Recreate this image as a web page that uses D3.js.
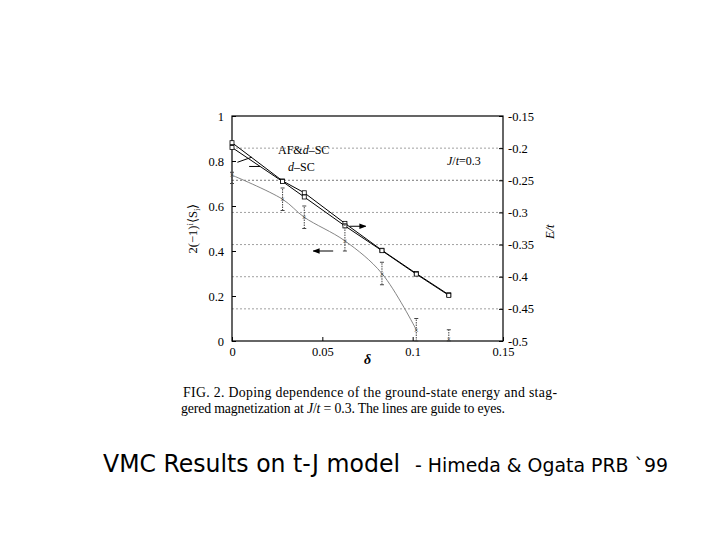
<!DOCTYPE html><html><head><meta charset="utf-8"><script src="https://d3js.org/d3.v7.min.js"></script>
<style>body{margin:0;background:#fff}</style></head><body><svg id="c" width="720" height="540"></svg>
<script>
const delta=[0,0.028,0.04,0.0625,0.083,0.102,0.12];
const eAF=[-0.1915,-0.251,-0.2694,-0.317,-0.3588,-0.395,-0.428];
const eSC=[-0.199,-0.252,-0.276,-0.321,-0.3595,-0.396,-0.429];
const mag=[0.737,0.63,0.55,0.445,0.30,0.05,0.01];
const magLo=[0.70,0.58,0.50,0.40,0.25,0.0,0.0];
const magHi=[0.75,0.68,0.60,0.52,0.35,0.10,0.05];
const xTicks=[0,0.05,0.1,0.15], yTicks=[0,0.2,0.4,0.6,0.8,1], eTicks=[-0.15,-0.2,-0.25,-0.3,-0.35,-0.4,-0.45,-0.5];
const svg=d3.select("#c");
const L=232,R=503,T=116,B=341;
const x=d3.scaleLinear().domain([0,0.15]).range([L,R]);
const y=d3.scaleLinear().domain([0,1]).range([B,T]);
const ye=d3.scaleLinear().domain([-0.5,-0.15]).range([B,T]);
const serif="Liberation Serif, Times New Roman, serif";
svg.append("g").selectAll("line").data(eTicks.slice(1,-1)).join("line")
 .attr("x1",L).attr("x2",R).attr("y1",d=>ye(d)).attr("y2",d=>ye(d))
 .attr("stroke",(d,i)=>i==1?"#555":"#888").attr("stroke-dasharray","2,2").attr("stroke-width",0.8);
svg.append("rect").attr("x",L).attr("y",T).attr("width",R-L).attr("height",B-T).attr("fill","none").attr("stroke","#000").attr("stroke-width",1.2);
const fmt=d=>String(d);
const ax=svg.append("g").attr("transform",`translate(0,${B})`).call(d3.axisBottom(x).tickValues(xTicks).tickFormat(fmt).tickSize(-4).tickPadding(6));
const ay=svg.append("g").attr("transform",`translate(${L},0)`).call(d3.axisLeft(y).tickValues(yTicks).tickFormat(fmt).tickSize(-4).tickPadding(8));
const ae=svg.append("g").attr("transform",`translate(${R},0)`).call(d3.axisRight(ye).tickValues(eTicks).tickFormat(fmt).tickSize(-4).tickPadding(5));
[ax,ay,ae].forEach(a=>{a.select(".domain").remove();a.selectAll("text").attr("font-family",serif).attr("font-size",12.5).attr("fill","#000");});
const le=d3.line().x((d,i)=>x(delta[i])).y(d=>ye(d));
[eAF,eSC].forEach(s=>{
 svg.append("path").attr("d",le(s)).attr("fill","none").attr("stroke","#000").attr("stroke-width",1);
 svg.append("g").selectAll("rect").data(s).join("rect").attr("x",(d,i)=>x(delta[i])-2).attr("y",d=>ye(d)-2).attr("width",4).attr("height",4).attr("fill","#fff").attr("stroke","#000").attr("stroke-width",0.8);
});
const lm=d3.line().curve(d3.curveCatmullRom).x((d,i)=>x(delta[i])).y(d=>y(d));
svg.append("path").attr("d",lm(mag.slice(0,6))).attr("fill","none").attr("stroke","#777").attr("stroke-width",0.9);
const g=svg.append("g");
delta.forEach((d,i)=>{
 const cx=x(d);
 g.append("line").attr("x1",cx).attr("x2",cx).attr("y1",y(magLo[i])).attr("y2",y(magHi[i])).attr("stroke","#444").attr("stroke-dasharray","1.5,1");
 [magLo[i],magHi[i]].forEach(v=>g.append("line").attr("x1",cx-2).attr("x2",cx+2).attr("y1",y(v)).attr("y2",y(v)).attr("stroke","#444"));
 g.append("text").attr("x",cx).attr("y",y(mag[i])+3).attr("text-anchor","middle").attr("font-size",8).attr("fill","#333").text("×");
});
svg.append("defs").append("marker").attr("id","ah").attr("viewBox","0 0 10 10").attr("refX",9).attr("refY",5).attr("markerWidth",7).attr("markerHeight",7).attr("orient","auto").append("path").attr("d","M0,1L10,5L0,9z");
svg.append("line").attr("x1",x(0.065)).attr("x2",x(0.074)).attr("y1",y(0.51)).attr("y2",y(0.51)).attr("stroke","#000").attr("marker-end","url(#ah)");
svg.append("line").attr("x1",x(0.056)).attr("x2",x(0.045)).attr("y1",y(0.4)).attr("y2",y(0.4)).attr("stroke","#000").attr("marker-end","url(#ah)");
svg.append("line").attr("x1",x(0.003)).attr("x2",x(0.011)).attr("y1",ye(-0.222)).attr("y2",ye(-0.214)).attr("stroke","#000");
svg.append("text").attr("x",278).attr("y",154).attr("font-family",serif).attr("font-size",12).html('AF&amp;<tspan font-style="italic">d</tspan>–SC');
svg.append("line").attr("x1",x(0.0095)).attr("x2",x(0.0155)).attr("y1",ye(-0.2285)).attr("y2",ye(-0.2285)).attr("stroke","#000");
svg.append("text").attr("x",288).attr("y",171).attr("font-family",serif).attr("font-size",12).html('<tspan font-style="italic">d</tspan>–SC');
svg.append("text").attr("x",447).attr("y",165).attr("font-family",serif).attr("font-size",12).html('<tspan font-style="italic">J</tspan>/<tspan font-style="italic">t</tspan>=0.3');
svg.append("text").attr("x",x(0.075)).attr("y",364).attr("text-anchor","middle").attr("font-family",serif).attr("font-size",14).attr("font-weight","bold").attr("font-style","italic").text("δ");
svg.append("text").attr("transform",`translate(197,${y(0.5)}) rotate(-90)`).attr("text-anchor","middle").attr("font-family",serif).attr("font-size",12.5).html('2(−1)<tspan dy="-4" font-size="9">i</tspan><tspan dy="4">⟨S</tspan><tspan dy="3" font-size="9">i</tspan><tspan dy="-3">⟩</tspan>');
svg.append("text").attr("transform",`translate(554,${ye(-0.33)}) rotate(-90)`).attr("text-anchor","middle").attr("font-family",serif).attr("font-size",12.5).attr("font-style","italic").text("E/t");
svg.append("text").attr("x",183).attr("y",397).attr("font-family",serif).attr("font-size",13.8).attr("textLength",374).attr("lengthAdjust","spacing").text("FIG. 2.  Doping dependence of the ground-state energy and stag-");
svg.append("text").attr("x",181).attr("y",413).attr("font-family",serif).attr("font-size",13.8).attr("textLength",324).attr("lengthAdjust","spacing").html('gered magnetization at <tspan font-style="italic">J</tspan>/<tspan font-style="italic">t</tspan> = 0.3. The lines are guide to eyes.');
svg.append("text").attr("x",103).attr("y",472).attr("font-family","DejaVu Sans, sans-serif").attr("font-size",24).attr("textLength",297).attr("lengthAdjust","spacingAndGlyphs").text("VMC Results on t-J model");
svg.append("text").attr("x",415).attr("y",472).attr("font-family","DejaVu Sans, sans-serif").attr("font-size",19).attr("textLength",253).attr("lengthAdjust","spacingAndGlyphs").text("- Himeda & Ogata PRB `99");
</script></body></html>
